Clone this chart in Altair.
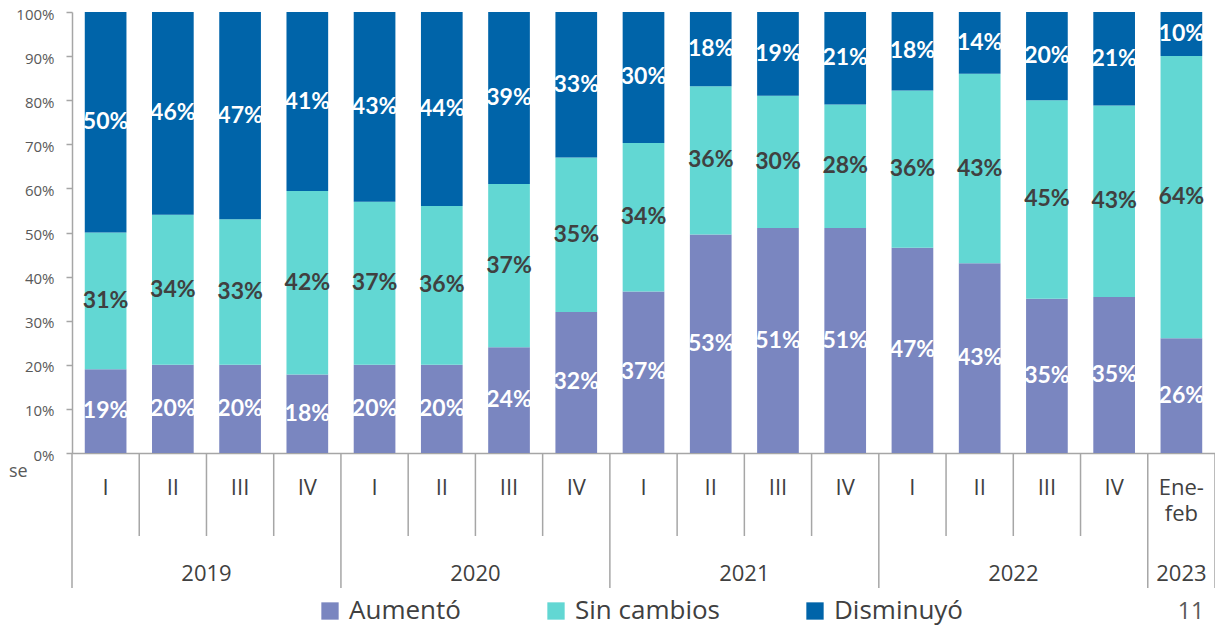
import altair as alt
import pandas as pd

quarters = ["I", "II", "III", "IV", "I", "II", "III", "IV", "I", "II", "III", "IV",
            "I", "II", "III", "IV", "Ene-\nfeb"]
years = ["2019"] * 4 + ["2020"] * 4 + ["2021"] * 4 + ["2022"] * 4 + ["2023"]
series = ["Aumentó", "Sin cambios", "Disminuyó"]
aumento = [19, 20, 20, 18, 20, 20, 24, 32, 37, 53, 51, 51, 47, 43, 35, 35, 26]
sin_cambios = [31, 34, 33, 42, 37, 36, 37, 35, 34, 36, 30, 28, 36, 43, 45, 43, 64]
disminuyo = [50, 46, 47, 41, 43, 44, 39, 33, 30, 18, 19, 21, 18, 14, 20, 21, 10]
colors = ["#7A86C0", "#62D7D3", "#0064A9"]
y_ticks = [i / 10 for i in range(11)]

rows = []
for i in range(len(quarters)):
    for s, vals in enumerate([aumento, sin_cambios, disminuyo]):
        rows.append({"idx": i, "q": quarters[i], "year": years[i], "serie": series[s],
                     "s": s, "v": vals[i], "lab": f"{vals[i]}%"})
df = pd.DataFrame(rows)

cat_df = pd.DataFrame({"idx": list(range(len(quarters))), "q": quarters, "year": years})

div_rows = []
for i in range(len(quarters)):
    kind = "year" if (i == 0 or years[i] != years[i - 1]) else "q"
    div_rows.append({"pos": i - 0.5, "kind": kind})
div_rows.append({"pos": len(quarters) - 0.5, "kind": "year"})
div_df = pd.DataFrame(div_rows)

W, H = 1143, 441
xscale = alt.Scale(domain=[-0.5, len(quarters) - 0.5], nice=False, zero=False)
yscale = alt.Scale(domain=[0, 1], nice=False)

base = alt.Chart(df).transform_stack(
    stack="v", groupby=["idx"], as_=["y0", "y1"],
    sort=[alt.SortField("s", order="ascending")], offset="normalize"
).transform_calculate(
    mid="(datum.y0 + datum.y1) / 2",
    xl="datum.idx - 0.31",
    xr="datum.idx + 0.31",
)

bars = base.mark_bar().encode(
    x=alt.X("xl:Q", scale=xscale,
            axis=alt.Axis(title=None, labels=False, ticks=False, grid=False,
                          domain=True, domainColor="#A6A6A6", domainWidth=1.5)),
    x2="xr:Q",
    y=alt.Y("y0:Q", scale=yscale,
            axis=alt.Axis(title=None, format=".0%", values=y_ticks, grid=False,
                          domainColor="#A6A6A6", domainWidth=1.5, tickColor="#A6A6A6",
                          tickWidth=1.5, tickSize=6, labelPadding=12, labelOffset=2,
                          labelFont="Open Sans", labelFontSize=15, labelColor="#595959")),
    y2="y1:Q",
    color=alt.Color("serie:N", scale=alt.Scale(domain=series, range=colors),
                    legend=alt.Legend(title=None, orient="none", direction="horizontal",
                                      legendX=245, legendY=586, symbolType="square",
                                      symbolSize=300, symbolStrokeWidth=0,
                                      labelFont="Open Sans", labelFontSize=26,
                                      labelColor="#404040", labelOffset=6,
                                      columnPadding=82, padding=0, labelLimit=400)),
    order=alt.Order("s:Q", sort="ascending"),
)

labels = base.mark_text(font="Lato", fontWeight="bold", fontSize=23,
                        baseline="middle", align="center").encode(
    x=alt.X("idx:Q", scale=xscale),
    y=alt.Y("mid:Q", scale=yscale),
    text="lab:N",
    color=alt.condition("datum.s == 1", alt.value("#404040"), alt.value("white")),
)

year_div = alt.Chart(div_df).transform_filter("datum.kind == 'year'").mark_rule(
    color="#A6A6A6", strokeWidth=1.5).encode(
    x=alt.X("pos:Q", scale=xscale),
    y=alt.value(H),
    y2=alt.value(576),
)
q_div = alt.Chart(div_df).transform_filter("datum.kind == 'q'").mark_rule(
    color="#A6A6A6", strokeWidth=1.5).encode(
    x=alt.X("pos:Q", scale=xscale),
    y=alt.value(H),
    y2=alt.value(524),
)

qlabels = alt.Chart(cat_df).mark_text(font="Open Sans", fontSize=22, color="#404040",
                                      align="center", baseline="alphabetic",
                                      lineBreak="\n", lineHeight=26).encode(
    x=alt.X("idx:Q", scale=xscale),
    y=alt.value(483),
    text="q:N",
)

ylabels = alt.Chart(cat_df).transform_aggregate(
    mid="mean(idx)", groupby=["year"]
).mark_text(font="Open Sans", fontSize=22, color="#404040", align="center",
            baseline="alphabetic").encode(
    x=alt.X("mid:Q", scale=xscale),
    y=alt.value(569),
    text="year:N",
)

extra_df = pd.DataFrame({"t": ["se"]})
cut_text = alt.Chart(extra_df).mark_text(font="Open Sans", fontSize=18, color="#595959",
                                         align="left", baseline="alphabetic").encode(
    x=alt.value(-63), y=alt.value(465), text="t:N")

page_df = pd.DataFrame({"t": ["11"]})
page_num = alt.Chart(page_df).mark_text(font="Open Sans", fontSize=23, color="#595959",
                                        align="center", baseline="alphabetic").encode(
    x=alt.value(1119), y=alt.value(607), text="t:N")

chart = alt.layer(bars, labels, year_div, q_div, qlabels, ylabels, cut_text, page_num).properties(
    width=W, height=H,
    autosize=alt.AutoSizeParams(type="none"),
    padding={"left": 64, "top": 4, "right": 0, "bottom": 173},
).configure_view(stroke=None)

chart.save("out.html", embed_options={"renderer": "svg", "actions": False})
